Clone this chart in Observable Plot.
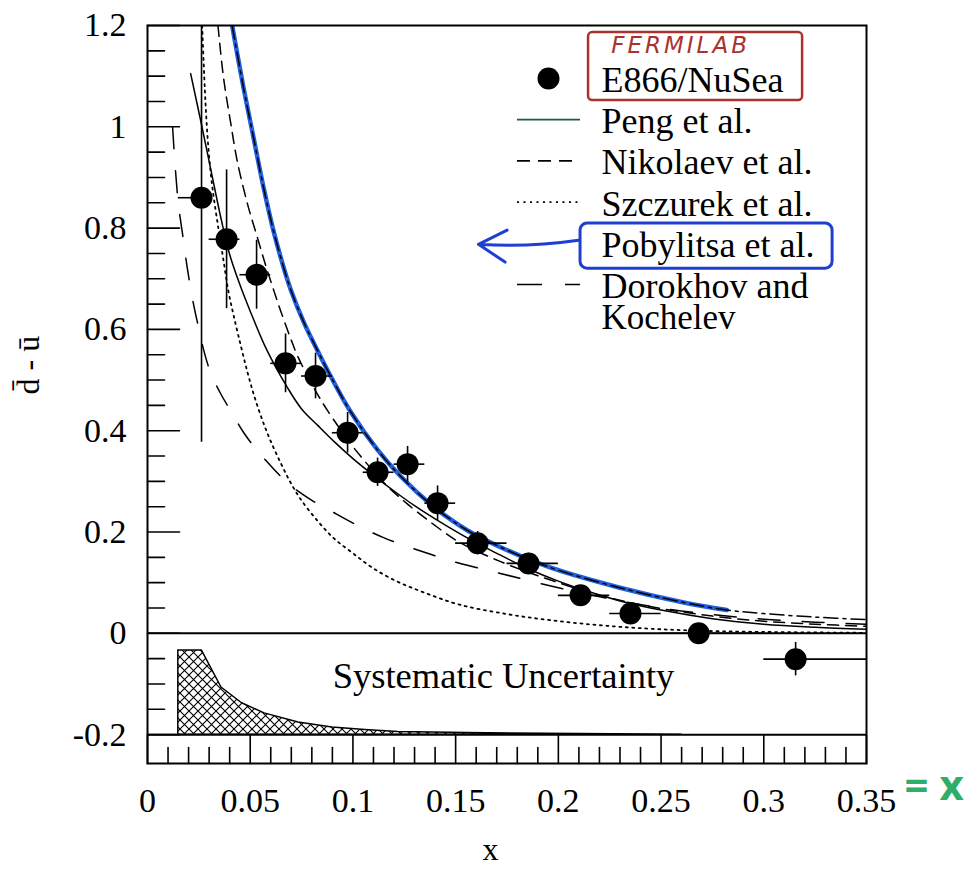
<!DOCTYPE html>
<html>
<head>
<meta charset="utf-8">
<script src="https://cdn.jsdelivr.net/npm/d3@7"></script>
<script src="https://cdn.jsdelivr.net/npm/@observablehq/plot@0.6"></script>
<style>
  html, body { margin: 0; padding: 0; background: white; }
  .fermi text { letter-spacing: 3px; }
</style>
</head>
<body>
<div id="chart"></div>
<script>
// ---------- E866/NuSea data ----------
const e866X   = [0.0263, 0.0385, 0.0531, 0.0672, 0.0818, 0.0974, 0.112, 0.1266, 0.1412, 0.1607, 0.1855, 0.2108, 0.2351, 0.2683, 0.3155];
const e866Y   = [0.860, 0.778, 0.708, 0.533, 0.508, 0.396, 0.318, 0.334, 0.257, 0.178, 0.138, 0.075, 0.039, 0.000, -0.051];
const e866Err = [0.483, 0.137, 0.068, 0.058, 0.045, 0.040, 0.028, 0.035, 0.034, 0.023, 0.020, 0.018, 0.018, 0.018, 0.033];
const binLo   = [0.015, 0.030, 0.045, 0.060, 0.075, 0.090, 0.105, 0.120, 0.135, 0.150, 0.175, 0.200, 0.225, 0.250, 0.300];
const binHi   = [0.030, 0.045, 0.060, 0.075, 0.090, 0.105, 0.120, 0.135, 0.150, 0.175, 0.200, 0.225, 0.250, 0.300, 0.350];

// ---------- model curves ----------
const pengX = [0.021, 0.026, 0.031, 0.036, 0.040, 0.045, 0.050, 0.058, 0.068, 0.075, 0.083, 0.091, 0.100, 0.110, 0.120, 0.130, 0.140, 0.155, 0.170, 0.185, 0.200, 0.215, 0.230, 0.250, 0.275, 0.300, 0.325, 0.350];
const pengY = [1.105, 1.010, 0.912, 0.815, 0.748, 0.688, 0.636, 0.560, 0.486, 0.443, 0.410, 0.378, 0.345, 0.312, 0.281, 0.252, 0.226, 0.190, 0.158, 0.128, 0.103, 0.082, 0.064, 0.046, 0.029, 0.018, 0.012, 0.008];

const nikX = [0.0343, 0.0370, 0.0404, 0.0438, 0.0490, 0.0536, 0.0574, 0.0609, 0.0647, 0.0696, 0.0730, 0.0808, 0.0876, 0.0988, 0.1037, 0.1149, 0.1266, 0.1426, 0.1509, 0.1704, 0.200, 0.225, 0.250, 0.275, 0.300, 0.325, 0.350];
const nikY = [1.200, 1.097, 1.010, 0.930, 0.843, 0.780, 0.728, 0.684, 0.638, 0.583, 0.548, 0.486, 0.440, 0.375, 0.350, 0.298, 0.255, 0.205, 0.182, 0.144, 0.100, 0.070, 0.049, 0.034, 0.024, 0.018, 0.014];

const szcX = [0.0266, 0.0282, 0.0297, 0.0316, 0.0345, 0.0370, 0.0394, 0.0419, 0.0453, 0.0487, 0.0520, 0.0560, 0.0599, 0.0650, 0.0696, 0.0745, 0.0828, 0.0906, 0.1000, 0.1100, 0.1217, 0.1350, 0.1524, 0.1750, 0.1960, 0.2200, 0.2450, 0.2800, 0.3500];
const szcY = [1.200, 1.050, 0.955, 0.880, 0.800, 0.736, 0.675, 0.628, 0.570, 0.515, 0.468, 0.420, 0.380, 0.335, 0.298, 0.265, 0.222, 0.188, 0.158, 0.128, 0.102, 0.080, 0.056, 0.038, 0.026, 0.016, 0.009, 0.004, 0.001];

const pobX = [0.0412, 0.0467, 0.0516, 0.0565, 0.0610, 0.0650, 0.0696, 0.0760, 0.0828, 0.0891, 0.0988, 0.1120, 0.1232, 0.1392, 0.1475, 0.1558, 0.1719, 0.1960, 0.2290, 0.2610, 0.2820, 0.300, 0.325, 0.350];
const pobY = [1.200, 1.078, 0.979, 0.880, 0.800, 0.740, 0.680, 0.615, 0.558, 0.508, 0.438, 0.362, 0.310, 0.250, 0.225, 0.203, 0.170, 0.130, 0.091, 0.061, 0.046, 0.039, 0.032, 0.027];
const pobHighlightEnd = 0.282;

const dorX = [0.0122, 0.0136, 0.0151, 0.0170, 0.0185, 0.0200, 0.0224, 0.0248, 0.0273, 0.0307, 0.0355, 0.0404, 0.0467, 0.0536, 0.0613, 0.0696, 0.0794, 0.0891, 0.1037, 0.1149, 0.1246, 0.1363, 0.1460, 0.160, 0.170, 0.200, 0.225, 0.250, 0.275, 0.300, 0.325, 0.350];
const dorY = [1.000, 0.915, 0.845, 0.790, 0.745, 0.705, 0.650, 0.605, 0.560, 0.515, 0.474, 0.440, 0.397, 0.360, 0.325, 0.292, 0.264, 0.242, 0.210, 0.189, 0.174, 0.158, 0.145, 0.130, 0.120, 0.090, 0.068, 0.050, 0.037, 0.028, 0.022, 0.018];

// ---------- systematic uncertainty band (top edge, base at -0.2) ----------
const sysX = [0.015, 0.0265, 0.036, 0.046, 0.057, 0.0735, 0.090, 0.106, 0.122, 0.155, 0.210, 0.260];
const sysY = [-0.034, -0.034, -0.107, -0.138, -0.158, -0.176, -0.186, -0.191, -0.195, -0.197, -0.199, -0.200];
const sysBase = -0.2;

// ---------- ticks & labels ----------
const xMajorTicks = [0, 0.05, 0.1, 0.15, 0.2, 0.25, 0.3, 0.35];
const xMinorTicks = d3.range(0, 36).filter(k => k % 5 !== 0).map(k => k / 100);
const yMajorTicks = [-0.2, 0, 0.2, 0.4, 0.6, 0.8, 1, 1.2];
const yMinorTicks = d3.range(-3, 24).filter(k => k % 4 !== 0).map(k => k * 0.05);
const legendLabels = ["E866/NuSea", "Peng et al.", "Nikolaev et al.", "Szczurek et al.", "Pobylitsa et al.", "Dorokhov and"];
const legendExtra = "Kochelev";
const yLabel = "d\u0304 - u\u0304";
const xLabel = "x";
const sysLabel = "Systematic Uncertainty";
const noteLab = "FERMILAB";
const noteX = "= x";

// ---------- build tables ----------
const pts = e866X.map((x, i) => ({x, y: e866Y[i], lo: e866Y[i] - e866Err[i], hi: e866Y[i] + e866Err[i], bl: binLo[i], bh: binHi[i]}));
const toXY = (xs, ys) => xs.map((x, i) => ({x, y: ys[i]}));
const peng = toXY(pengX, pengY);
const nik = toXY(nikX, nikY);
const szc = toXY(szcX, szcY);
const pob = toXY(pobX, pobY);
const pobBlue = pob.filter(d => d.x <= pobHighlightEnd);
const dor = toXY(dorX, dorY);
const sys = toXY(sysX, sysY);

// layout helpers (legend placement in data units)
const yDomain = [-0.257, 1.2];
const pxPerY = 506.7;
const rowY = i => 1.0914 - i * (41.2 / pxPerY);
const legLineX1 = 0.1801, legLineX2 = 0.2108, legDotX = 0.1952, legTextX = 0.221;

const serif = "'Liberation Serif', 'Times New Roman', 'DejaVu Serif', serif";
const lineShape = {draw(context, l) { context.moveTo(0, 0); context.lineTo(0, -l); }};
const crv = "catmull-rom";

const dashes = {
  nik: "11,7",
  szc: "2,4.5",
  pob: "14,5,3,5",
  dor: "22,22"
};

const svg = Plot.plot({
  width: 977,
  height: 878,
  marginLeft: 147,
  marginRight: 111,
  marginTop: 25,
  marginBottom: 115,
  x: {domain: [0, 0.35], axis: null},
  y: {domain: yDomain, axis: null},
  style: {fontFamily: serif, fontSize: "34px", background: "white", color: "black", overflow: "visible"},
  marks: [
    // systematic band
    Plot.areaY(sys, {x: "x", y1: sysBase, y2: "y", fill: "url(#xhatch)", stroke: "black", strokeWidth: 1.5}),
    // reference lines
    Plot.ruleY([0], {stroke: "black", strokeWidth: 2}),
    Plot.ruleY([sysBase], {stroke: "black", strokeWidth: 2}),
    // ticks
    Plot.vector(yMajorTicks, {x: () => 0, y: d => d, rotate: 90, length: 32, anchor: "start", shape: lineShape, stroke: "black", strokeWidth: 1.6, fill: "none"}),
    Plot.vector(yMinorTicks, {x: () => 0, y: d => d, rotate: 90, length: 17, anchor: "start", shape: lineShape, stroke: "black", strokeWidth: 1.6, fill: "none"}),
    Plot.vector(xMajorTicks, {x: d => d, y: () => yDomain[0], rotate: 0, length: 28, anchor: "start", shape: lineShape, stroke: "black", strokeWidth: 1.6, fill: "none"}),
    Plot.vector(xMinorTicks, {x: d => d, y: () => yDomain[0], rotate: 0, length: 16, anchor: "start", shape: lineShape, stroke: "black", strokeWidth: 1.6, fill: "none"}),
    // curves
    Plot.line(pobBlue, {x: "x", y: "y", stroke: "#1f5fe0", strokeWidth: 4.5, clip: true, curve: crv}),
    Plot.line(pob, {x: "x", y: "y", stroke: "black", strokeWidth: 1.5, strokeDasharray: dashes.pob, clip: true, curve: crv}),
    Plot.line(peng, {x: "x", y: "y", stroke: "black", strokeWidth: 1.5, clip: true, curve: crv}),
    Plot.line(nik, {x: "x", y: "y", stroke: "black", strokeWidth: 1.5, strokeDasharray: dashes.nik, clip: true, curve: crv}),
    Plot.line(szc, {x: "x", y: "y", stroke: "black", strokeWidth: 1.8, strokeDasharray: dashes.szc, clip: true, curve: crv}),
    Plot.line(dor, {x: "x", y: "y", stroke: "black", strokeWidth: 1.5, strokeDasharray: dashes.dor, clip: true, curve: crv}),
    // data with error bars
    Plot.ruleX(pts, {x: "x", y1: "lo", y2: "hi", stroke: "black", strokeWidth: 1.6, clip: true}),
    Plot.ruleY(pts, {y: "y", x1: "bl", x2: "bh", stroke: "black", strokeWidth: 1.6, clip: true}),
    Plot.dot(pts, {x: "x", y: "y", r: 11, fill: "black", stroke: "none"}),
    // axis labels
    Plot.axisY({ticks: yMajorTicks, tickSize: 0, tickPadding: 21, tickFormat: d => String(d), label: null, fontSize: 34}),
    Plot.axisX({ticks: xMajorTicks, tickSize: 0, tickPadding: 24, tickFormat: d => String(d), label: null, fontSize: 34}),
    Plot.text([yLabel], {frameAnchor: "left", dx: -119, rotate: -90, fontSize: 32, text: d => d}),
    Plot.text([xLabel], {x: () => 0.167, frameAnchor: "bottom", dy: 96, fontSize: 32, text: d => d}),
    Plot.text([sysLabel], {x: () => 0.1733, y: () => -0.0849, fontSize: 36.5, text: d => d}),
    // legend
    Plot.dot([0], {x: () => legDotX, y: () => rowY(0), dy: -2, r: 11, fill: "black", stroke: "none"}),
    Plot.ruleY([rowY(1)], {x1: legLineX1, x2: legLineX2, dy: -2, stroke: "#1e5a46", strokeWidth: 1.8}),
    Plot.ruleY([rowY(2)], {x1: legLineX1, x2: legLineX2, dy: -2, stroke: "black", strokeWidth: 1.6, strokeDasharray: "13,8"}),
    Plot.ruleY([rowY(3)], {x1: legLineX1, x2: legLineX2, dy: -2, stroke: "black", strokeWidth: 1.8, strokeDasharray: dashes.szc}),
    Plot.ruleY([rowY(5)], {x1: legLineX1, x2: legLineX2, dy: -2, stroke: "black", strokeWidth: 1.6, strokeDasharray: "25,23"}),
    Plot.text(legendLabels, {x: () => legTextX, y: (d, i) => rowY(i), text: d => d, textAnchor: "start", fontSize: 36}),
    Plot.text([legendExtra], {x: () => legTextX, y: () => rowY(5), dy: 31, text: d => d, textAnchor: "start", fontSize: 35}),
    // hand annotations
    Plot.rect([0], {x1: () => 0.2147, x2: () => 0.3189, y1: () => 1.052, y2: () => 1.186, fill: "none", stroke: "#a8332c", strokeWidth: 2.5, rx: 4}),
    Plot.text([noteLab], {x: () => 0.2595, y: () => 1.160, text: d => d, fill: "#a8332c", fontSize: 23, fontFamily: "'DejaVu Sans', sans-serif", fontStyle: "italic", className: "fermi"}),
    Plot.rect([0], {x1: () => 0.2108, x2: () => 0.3335, y1: () => 0.720, y2: () => 0.809, fill: "none", stroke: "#1f3fd0", strokeWidth: 3, rx: 7}),
    Plot.arrow([0], {x1: () => 0.2098, y1: () => 0.776, x2: () => 0.1611, y2: () => 0.768, stroke: "#1f3fd0", strokeWidth: 3, headLength: 16, bend: 6}),
    Plot.text([noteX], {x: () => 0.35, frameAnchor: "bottom", dy: 36, dx: 38, textAnchor: "start", text: d => d, fill: "#2fae6a", fontSize: 42, fontWeight: "bold", fontFamily: "'Noto Sans', sans-serif"}),
    Plot.frame({stroke: "black", strokeWidth: 2})
  ]
});

d3.select(svg).insert("defs", ":first-child").html(
  '<pattern id="xhatch" patternUnits="userSpaceOnUse" width="9" height="9">' +
  '<path d="M0,0L9,9M9,0L0,9" stroke="black" stroke-width="1.1" fill="none"/></pattern>'
);

document.getElementById("chart").appendChild(svg);
</script>
</body>
</html>
